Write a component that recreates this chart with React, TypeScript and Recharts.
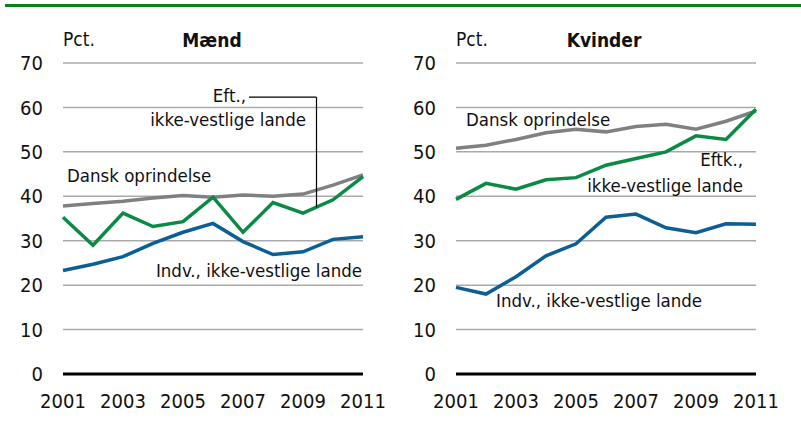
import { LineChart, Line, XAxis, YAxis, CartesianGrid, ReferenceLine } from 'recharts';

const years = [2001, 2002, 2003, 2004, 2005, 2006, 2007, 2008, 2009, 2010, 2011];
const yearTicks = [2001, 2003, 2005, 2007, 2009, 2011];
const pctTicks = [0, 10, 20, 30, 40, 50, 60, 70];

// Mænd
const menDansk = [37.8, 38.4, 38.9, 39.6, 40.2, 39.8, 40.3, 40.0, 40.5, 42.5, 44.8];
const menEft = [35.3, 29.0, 36.2, 33.2, 34.3, 39.8, 31.9, 38.6, 36.2, 39.2, 44.4];
const menIndv = [23.3, 24.7, 26.4, 29.4, 31.9, 33.9, 29.8, 26.9, 27.5, 30.3, 30.9];

// Kvinder
const womenDansk = [50.8, 51.5, 52.8, 54.3, 55.1, 54.5, 55.7, 56.2, 55.1, 56.9, 59.2];
const womenEft = [39.3, 42.9, 41.6, 43.7, 44.2, 47.0, 48.5, 50.0, 53.6, 52.8, 59.6];
const womenIndv = [19.5, 18.0, 21.9, 26.6, 29.3, 35.3, 36.0, 32.9, 31.8, 33.8, 33.7];

const GREEN = '#0b8a45';
const BLUE = '#0b5f95';
const GREY = '#808080';
const FONT = '"DejaVu Sans Condensed", "Liberation Sans Narrow", sans-serif';

const build = (dansk: number[], eft: number[], indv: number[]) =>
  years.map((year, i) => ({ year, dansk: dansk[i], eft: eft[i], indv: indv[i] }));

const menData = build(menDansk, menEft, menIndv);
const womenData = build(womenDansk, womenEft, womenIndv);

const tickStyle = { fontSize: 20, fill: '#111', fontFamily: FONT };

const Panel = ({ data, leader }: { data: any[]; leader?: boolean }) => (
  <LineChart width={400} height={427} data={data} margin={{ top: 63, right: 37, left: 0, bottom: 0 }}>
    <CartesianGrid vertical={false} stroke="#aaaaaa" strokeWidth={1.5} />
    <XAxis
      dataKey="year"
      type="number"
      domain={[2001, 2011]}
      ticks={yearTicks}
      tick={tickStyle}
      tickLine={false}
      tickSize={0}
      tickMargin={20}
      axisLine={{ stroke: '#000', strokeWidth: 3 }}
      height={53}
    />
    <YAxis
      domain={[0, 70]}
      ticks={pctTicks}
      tick={tickStyle}
      tickLine={false}
      tickSize={0}
      tickMargin={20}
      axisLine={false}
      width={63}
    />
    <Line dataKey="dansk" stroke={GREY} strokeWidth={3.5} dot={false} isAnimationActive={false} />
    <Line dataKey="eft" stroke={GREEN} strokeWidth={3.5} dot={false} isAnimationActive={false} />
    <Line dataKey="indv" stroke={BLUE} strokeWidth={3.5} dot={false} isAnimationActive={false} />
    {leader && (
      <ReferenceLine
        segment={[
          { x: 2007.2, y: 62.3 },
          { x: 2009.45, y: 62.3 },
        ]}
        stroke="#000"
        strokeWidth={1.2}
      />
    )}
    {leader && (
      <ReferenceLine
        segment={[
          { x: 2009.45, y: 62.3 },
          { x: 2009.45, y: 37.5 },
        ]}
        stroke="#000"
        strokeWidth={1.2}
      />
    )}
  </LineChart>
);

const labelStyle = { fontSize: 18.5, fill: '#111', fontFamily: FONT };

export default function App() {
  return (
    <div style={{ position: 'absolute', left: 0, top: 0, width: 801, height: 427, background: '#fff' }}>
      <div style={{ position: 'absolute', left: 5, top: 4, width: 796, height: 3, background: '#0a7f1c' }} />
      <div style={{ position: 'absolute', left: 0, top: 0 }}>
        <Panel data={menData} leader />
      </div>
      <div style={{ position: 'absolute', left: 393, top: 0 }}>
        <Panel data={womenData} />
      </div>
      <svg width={801} height={427} style={{ position: 'absolute', left: 0, top: 0, pointerEvents: 'none' }}>
        <text x={63} y={46} {...labelStyle} fontSize={19}>Pct.</text>
        <text x={212} y={47} {...labelStyle} fontSize={19} fontWeight="bold" textAnchor="middle">Mænd</text>
        <text x={246} y={102} {...labelStyle} textAnchor="end">Eft.,</text>
        <text x={306} y={126} {...labelStyle} textAnchor="end">ikke-vestlige lande</text>
        <text x={67} y={182} {...labelStyle}>Dansk oprindelse</text>
        <text x={362} y={277} {...labelStyle} textAnchor="end">Indv., ikke-vestlige lande</text>

        <text x={456} y={46} {...labelStyle} fontSize={19}>Pct.</text>
        <text x={604} y={47} {...labelStyle} fontSize={19} fontWeight="bold" textAnchor="middle">Kvinder</text>
        <text x={466} y={126} {...labelStyle}>Dansk oprindelse</text>
        <text x={743} y={166} {...labelStyle} textAnchor="end">Eftk.,</text>
        <text x={743} y={192} {...labelStyle} textAnchor="end">ikke-vestlige lande</text>
        <text x={496} y={307} {...labelStyle}>Indv., ikke-vestlige lande</text>
      </svg>
    </div>
  );
}
